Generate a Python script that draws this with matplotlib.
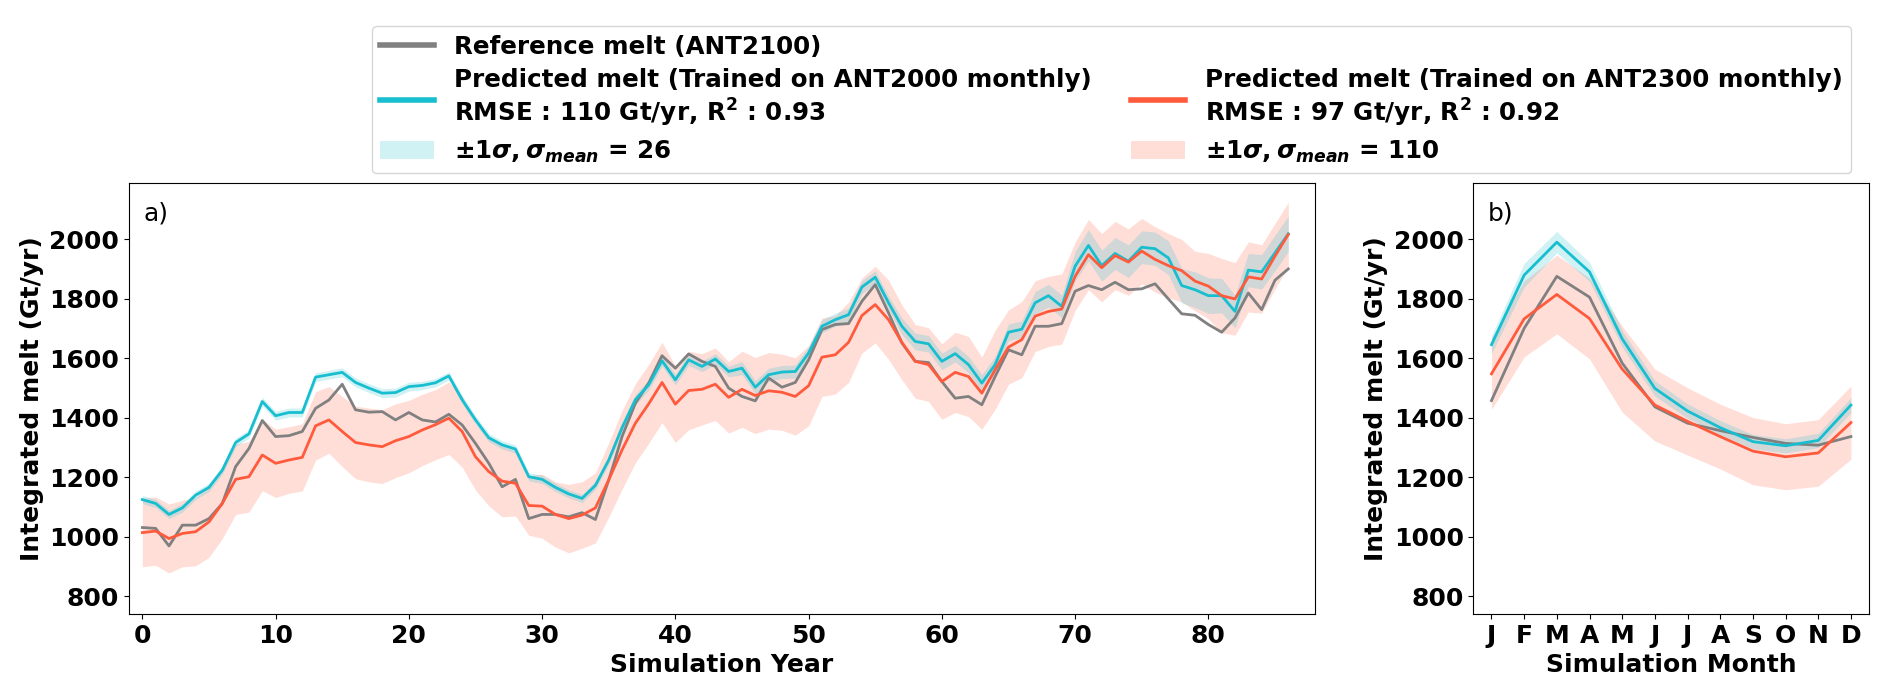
import numpy as np
import matplotlib
matplotlib.use('Agg')
import matplotlib.pyplot as plt
from matplotlib.lines import Line2D
from matplotlib.patches import Patch

# Texto matemático en negrita (leyenda)
plt.rcParams['mathtext.fontset'] = 'custom'
plt.rcParams['mathtext.rm'] = 'DejaVu Sans:bold'
plt.rcParams['mathtext.it'] = 'DejaVu Sans:bold:italic'
plt.rcParams['mathtext.bf'] = 'DejaVu Sans:bold'

# Datos
years = np.arange(87)

ref_year = [1031, 1028, 969, 1039, 1039, 1061, 1112, 1236, 1297, 1391,
            1337, 1340, 1354, 1432, 1460, 1513, 1427, 1419, 1421, 1393,
            1418, 1393, 1386, 1412, 1376, 1314, 1247, 1168, 1193, 1061,
            1075, 1075, 1067, 1081, 1058, 1191, 1337, 1449, 1517, 1609,
            1567, 1615, 1590, 1573, 1500, 1472, 1457, 1534, 1503, 1519,
            1595, 1697, 1714, 1717, 1792, 1848, 1753, 1652, 1590, 1586,
            1522, 1466, 1472, 1444, 1539, 1629, 1612, 1708, 1708, 1717,
            1826, 1845, 1831, 1856, 1831, 1834, 1851, 1800, 1750, 1745,
            1714, 1688, 1736, 1820, 1764, 1863, 1901]

pred2000_year = [1125, 1112, 1075, 1097, 1140, 1166, 1224, 1317, 1346, 1455,
                 1407, 1418, 1418, 1537, 1545, 1553, 1519, 1500, 1483, 1485,
                 1505, 1509, 1518, 1541, 1461, 1393, 1333, 1309, 1295, 1202,
                 1193, 1166, 1144, 1129, 1173, 1258, 1367, 1461, 1511, 1592,
                 1528, 1595, 1573, 1598, 1556, 1567, 1503, 1545, 1554, 1556,
                 1618, 1708, 1730, 1747, 1840, 1873, 1787, 1708, 1657, 1649,
                 1590, 1616, 1579, 1517, 1579, 1688, 1698, 1787, 1811, 1775,
                 1910, 1980, 1912, 1953, 1927, 1974, 1969, 1938, 1845, 1831,
                 1811, 1811, 1758, 1897, 1891, 1955, 2019]

std2000_year = [14, 14, 14, 14, 14, 14, 14, 14, 14, 14,
                15, 15, 15, 15, 15, 15, 15, 15, 15, 15,
                15, 14, 14, 14, 14, 14, 14, 14, 14, 14,
                14, 14, 14, 14, 14, 14, 18, 18, 18, 18,
                18, 18, 18, 18, 18, 22, 22, 22, 22, 22,
                22, 22, 22, 22, 22, 22, 22, 28, 28, 28,
                28, 28, 28, 28, 28, 28, 28, 38, 38, 38,
                50, 53, 52, 54, 55, 55, 56, 57, 58, 60,
                60, 58, 55, 56, 58, 60, 60]

pred2300_year = [1014, 1019, 994, 1011, 1017, 1050, 1112, 1193, 1202, 1275,
                 1247, 1258, 1267, 1373, 1393, 1354, 1317, 1309, 1303, 1323,
                 1337, 1359, 1377, 1399, 1354, 1269, 1219, 1187, 1180, 1105,
                 1103, 1075, 1061, 1073, 1097, 1191, 1292, 1382, 1447, 1519,
                 1446, 1492, 1496, 1513, 1469, 1496, 1475, 1491, 1486, 1472,
                 1508, 1604, 1612, 1654, 1744, 1781, 1730, 1654, 1590, 1579,
                 1522, 1553, 1539, 1483, 1562, 1638, 1663, 1742, 1758, 1766,
                 1876, 1949, 1905, 1946, 1924, 1961, 1933, 1912, 1895, 1860,
                 1843, 1811, 1800, 1874, 1867, 1944, 2017]

std2300_year = [115, 115, 116, 112, 115, 119, 118, 118, 119, 120,
                115, 112, 113, 115, 112, 118, 122, 124, 124, 124,
                122, 120, 118, 122, 120, 112, 115, 120, 110, 100,
                108, 110, 115, 112, 118, 125, 132, 133, 133, 135,
                129, 132, 120, 122, 120, 128, 128, 129, 128, 130,
                135, 132, 132, 135, 126, 129, 133, 126, 124, 124,
                127, 135, 135, 121, 133, 125, 128, 119, 118, 118,
                115, 118, 115, 115, 112, 110, 110, 108, 105, 100,
                110, 125, 122, 118, 115, 110, 108]

months = ['J', 'F', 'M', 'A', 'M', 'J', 'J', 'A', 'S', 'O', 'N', 'D']
ref_month = [1458, 1701, 1876, 1806, 1584, 1437, 1382, 1357, 1334, 1314, 1308, 1337]
pred2000_month = [1646, 1880, 1991, 1891, 1666, 1499, 1423, 1367, 1320, 1306, 1324, 1443]
std2000_month = [30, 40, 36, 32, 28, 26, 24, 24, 24, 24, 24, 25]
pred2300_month = [1548, 1733, 1815, 1734, 1564, 1443, 1388, 1337, 1288, 1269, 1282, 1384]
std2300_month = [120, 128, 132, 136, 145, 121, 113, 109, 113, 111, 112, 123]

c_ref = 'gray'
c_2000 = '#17becf'
c_2300 = '#ff5a3c'

fig = plt.figure(figsize=(18.92, 6.95), dpi=100)
ax1 = fig.add_axes([0.0682, 0.1165, 0.6268, 0.6202])
ax2 = fig.add_axes([0.7788, 0.1165, 0.2090, 0.6202])


def draw(ax, x, ref, p1, s1, p2, s2):
    p1, s1, p2, s2 = map(np.asarray, (p1, s1, p2, s2))
    ax.fill_between(x, p2 - s2, p2 + s2, color=c_2300, alpha=0.2, lw=0)
    ax.fill_between(x, p1 - s1, p1 + s1, color=c_2000, alpha=0.2, lw=0)
    ax.plot(x, ref, color=c_ref, lw=2)
    ax.plot(x, p1, color=c_2000, lw=2)
    ax.plot(x, p2, color=c_2300, lw=2)
    ax.set_ylim(740, 2190)
    ax.set_yticks([800, 1000, 1200, 1400, 1600, 1800, 2000])
    ax.tick_params(labelsize=18)
    for lab in ax.get_xticklabels() + ax.get_yticklabels():
        lab.set_fontweight('bold')
    ax.set_ylabel('Integrated melt (Gt/yr)', fontsize=18, fontweight='bold')


draw(ax1, years, ref_year, pred2000_year, std2000_year, pred2300_year, std2300_year)
ax1.set_xlim(-1, 88)
ax1.set_xticks([0, 10, 20, 30, 40, 50, 60, 70, 80])
for lab in ax1.get_xticklabels():
    lab.set_fontweight('bold')
ax1.set_xlabel('Simulation Year', fontsize=18, fontweight='bold')
ax1.text(0.012, 0.93, 'a)', transform=ax1.transAxes, fontsize=18, va='center')

mx = np.arange(len(months))
draw(ax2, mx, ref_month, pred2000_month, std2000_month, pred2300_month, std2300_month)
ax2.set_xticks(mx)
ax2.set_xticklabels(months, fontsize=18, fontweight='bold')
ax2.set_xlabel('Simulation Month', fontsize=18, fontweight='bold')
ax2.text(0.035, 0.93, 'b)', transform=ax2.transAxes, fontsize=18, va='center')

# Leyenda
handles = [
    Line2D([], [], color=c_ref, lw=4),
    Line2D([], [], color=c_2000, lw=4),
    Patch(facecolor=c_2000, alpha=0.2),
    Line2D([], [], color='none'),
    Line2D([], [], color=c_2300, lw=4),
    Patch(facecolor=c_2300, alpha=0.2),
]
labels = [
    'Reference melt (ANT2100)',
    'Predicted melt (Trained on ANT2000 monthly)\nRMSE : 110 Gt/yr, R$^2$ : 0.93',
    r'$\pm 1\sigma, \sigma_{mean}$ = 26',
    '',
    'Predicted melt (Trained on ANT2300 monthly)\nRMSE : 97 Gt/yr, R$^2$ : 0.92',
    r'$\pm 1\sigma, \sigma_{mean}$ = 110',
]
fig.legend(handles, labels, ncol=2, loc='upper left',
           bbox_to_anchor=(0.19, 0.98),
           prop={'size': 17.7, 'weight': 'bold'}, labelspacing=0.38,
           borderpad=0.35, handlelength=2.2, columnspacing=1.6)

fig.savefig('out.png', dpi=100)
